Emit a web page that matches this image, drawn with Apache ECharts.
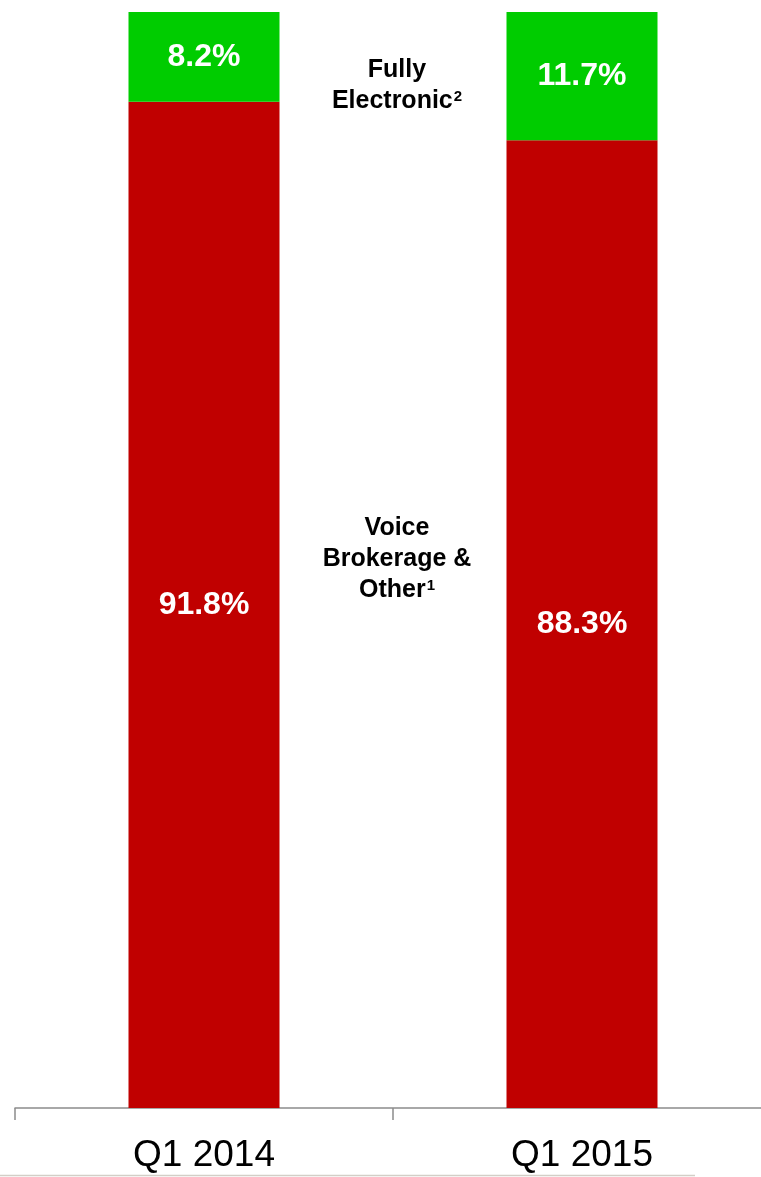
<!DOCTYPE html>
<html>
<head>
<meta charset="utf-8">
<script src="https://cdn.jsdelivr.net/npm/echarts@6/dist/echarts.min.js"></script>
<style>
  html, body { margin: 0; padding: 0; background: #fff; overflow: hidden; }
  /* 图表比窗口宽10px，右侧刻度落在画面之外 */
  #main { width: 771px; height: 1177px; }
</style>
</head>
<body>
<div id="main"></div>
<script>
// 数据
var categories = ['Q1 2014', 'Q1 2015'];
var voiceValues = [91.8, 88.3];
var electronicValues = [8.2, 11.7];

var myChart = echarts.init(document.getElementById('main'));
var FONT = "'Liberation Sans', Arial, sans-serif";

function pctLabel(p) {
    return p.value.toFixed(1) + '%';
}

var sideRich = {
    b: { fontFamily: FONT, fontWeight: 'bold', fontSize: 25, lineHeight: 31, color: '#000' },
    sup: { fontFamily: FONT, fontWeight: 'bold', fontSize: 15, lineHeight: 31, color: '#000', padding: [0, 0, 9, 1] }
};

var option = {
    animation: false,
    grid: { left: 15, right: 0, top: 12, bottom: 69 },
    xAxis: {
        type: 'category',
        data: categories,
        axisLine: { lineStyle: { color: '#8c8c8c', width: 1.5 } },
        axisTick: { show: true, length: 12, lineStyle: { color: '#8c8c8c', width: 1.5 } },
        axisLabel: { color: '#000', fontFamily: FONT, fontSize: 37, margin: 29 }
    },
    yAxis: {
        type: 'value',
        min: 0,
        max: 100,
        show: false
    },
    series: [
        {
            name: 'Voice Brokerage & Other',
            type: 'bar',
            stack: 'total',
            barWidth: 151,
            data: voiceValues,
            itemStyle: { color: '#C00000' },
            label: {
                show: true, position: 'inside', formatter: pctLabel,
                color: '#fff', fontFamily: FONT, fontWeight: 'bold', fontSize: 32
            }
        },
        {
            name: 'Fully Electronic',
            type: 'bar',
            stack: 'total',
            barWidth: 151,
            data: electronicValues,
            itemStyle: { color: '#00CC00' },
            label: {
                show: true, position: 'inside', formatter: pctLabel,
                color: '#fff', fontFamily: FONT, fontWeight: 'bold', fontSize: 32
            }
        }
    ],
    graphic: [
        {
            type: 'text', x: 397, y: 86,
            style: {
                text: '{b|Fully}\n{b|Electronic}{sup|2}', align: 'center', verticalAlign: 'middle',
                rich: sideRich
            }
        },
        {
            type: 'text', x: 397, y: 559,
            style: {
                text: '{b|Voice}\n{b|Brokerage &}\n{b|Other}{sup|1}', align: 'center', verticalAlign: 'middle',
                rich: sideRich
            }
        },
        {
            type: 'line',
            shape: { x1: 0, y1: 1175.5, x2: 695, y2: 1175.5 },
            style: { stroke: '#d3cfc7', lineWidth: 1.5 }
        }
    ]
};

myChart.setOption(option);
</script>
</body>
</html>
